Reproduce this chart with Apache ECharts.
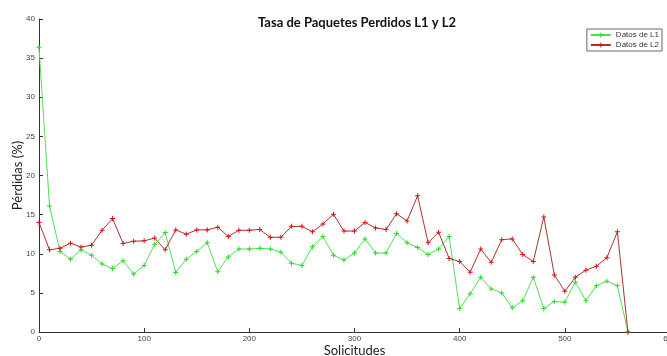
<!DOCTYPE html>
<html><head><meta charset="utf-8">
<script src="https://cdn.jsdelivr.net/npm/echarts@6/dist/echarts.min.js"></script>
<style>html,body{margin:0;padding:0;background:#fff}#c{width:667px;height:356px}</style>
</head><body><div id="c"></div>
<script>
const xValues = [0,10,20,30,40,50,60,70,80,90,100,110,120,130,140,150,160,170,180,190,200,210,220,230,240,250,260,270,280,290,300,310,320,330,340,350,360,370,380,390,400,410,420,430,440,450,460,470,480,490,500,510,520,530,540,550,560];
const l1 = [36.4,16.1,10.3,9.3,10.5,9.8,8.7,8.1,9.1,7.4,8.5,11.2,12.7,7.6,9.3,10.3,11.4,7.7,9.6,10.6,10.6,10.7,10.6,10.2,8.8,8.5,10.9,12.2,9.8,9.2,10.1,11.9,10.1,10.1,12.6,11.4,10.8,9.9,10.6,12.2,3.0,4.9,7.0,5.5,5.0,3.1,4.0,7.0,3.0,3.9,3.8,6.4,4.0,5.9,6.5,5.9,0];
const l2 = [14.0,10.5,10.7,11.35,10.85,11.1,13.0,14.5,11.3,11.6,11.65,12.0,10.5,13.05,12.5,13.05,13.05,13.4,12.2,13.0,13.0,13.1,12.1,12.1,13.5,13.5,12.8,13.8,15.05,12.9,12.9,14.0,13.3,13.1,15.1,14.2,17.4,11.4,12.75,9.4,9.0,7.65,10.6,8.9,11.8,11.9,9.9,9.0,14.7,7.3,5.2,7.0,7.9,8.4,9.5,12.8,0];
const seriesNames = ['Datos de L1','Datos de L2'];
const titleText = 'Tasa de Paquetes Perdidos L1 y L2';
const xName = 'Solicitudes';
const yName = 'Pérdidas (%)';

const plus = 'path://M4,0 L6,0 L6,4 L10,4 L10,6 L6,6 L6,10 L4,10 L4,6 L0,6 L0,4 L4,4 Z';
const chart = echarts.init(document.getElementById('c'), null, {renderer:'canvas'});
const tickLbl = {color:'#444', fontSize:8, fontFamily:'Liberation Sans Narrow, Liberation Sans, Arial'};
chart.setOption({
  animation:false,
  title:{text:titleText, left:352, textAlign:'center', top:11,
    textStyle:{fontSize:13, fontWeight:'bold', color:'#111', fontFamily:'Lato'}},
  legend:{orient:'vertical', right:5, top:29, itemWidth:20, itemHeight:6, itemGap:2,
    padding:[2,3,2,3], borderColor:'#666', borderWidth:1, borderRadius:0,
    textStyle:{fontSize:8, color:'#333', fontFamily:'Liberation Sans Narrow, Liberation Sans, Arial'},
    data:seriesNames},
  grid:{left:39, right:-3, top:19, bottom:24, containLabel:false, outerBoundsMode:'none'},
  xAxis:{type:'value', min:0, max:600, interval:100,
    name:xName, nameLocation:'middle', nameGap:12, nameMoveOverlap:false,
    nameTextStyle:{fontSize:13, color:'#222', fontFamily:'Lato', verticalAlign:'top'},
    axisLine:{lineStyle:{color:'#333', width:1}},
    axisTick:{inside:true, length:4, lineStyle:{color:'#333'}},
    axisLabel:Object.assign({margin:3}, tickLbl),
    splitLine:{show:false}},
  yAxis:{type:'value', min:0, max:40, interval:5,
    name:yName, nameLocation:'middle', nameGap:15, nameRotate:90, nameMoveOverlap:false,
    nameTextStyle:{fontSize:13, color:'#222', fontWeight:'normal', fontFamily:'Lato'},
    axisLine:{show:true, lineStyle:{color:'#333', width:1}},
    axisTick:{show:true, inside:true, length:4, lineStyle:{color:'#333'}},
    axisLabel:Object.assign({margin:4}, tickLbl),
    splitLine:{show:false}},
  series:[
    {name:seriesNames[0], type:'line', data:xValues.map((x,i)=>[x,l1[i]]),
      symbol:plus, symbolSize:5, showAllSymbol:true,
      lineStyle:{color:'#55dd55', width:1}, itemStyle:{color:'#22dd22'}},
    {name:seriesNames[1], type:'line', data:xValues.map((x,i)=>[x,l2[i]]),
      symbol:plus, symbolSize:5, showAllSymbol:true,
      lineStyle:{color:'#aa3333', width:1}, itemStyle:{color:'#dd1111'}}
  ]
});
</script></body></html>
